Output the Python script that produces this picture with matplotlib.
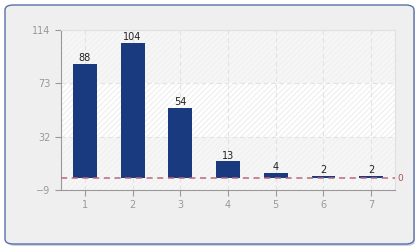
import matplotlib
matplotlib.use("Agg")
import matplotlib.pyplot as plt
from matplotlib.patches import FancyBboxPatch, Rectangle

categories = [1, 2, 3, 4, 5, 6, 7]
values = [88, 104, 54, 13, 4, 2, 2]
yticks = [-9, 32, 73, 114]
baseline = 0

W, H = 420, 250
fig = plt.figure(figsize=(W / 100, H / 100), dpi=100)
fig.patch.set_facecolor("white")

# outer rounded panel
shadow = FancyBboxPatch((7 / W, 4 / H), 408 / W, 239 / H,
                        boxstyle="round,pad=0,rounding_size=0.02",
                        transform=fig.transFigure, facecolor="#c9d0e0",
                        edgecolor="none", zorder=0)
fig.patches.append(shadow)
panel = FancyBboxPatch((5 / W, 6 / H), 409 / W, 239 / H,
                       boxstyle="round,pad=0,rounding_size=0.02",
                       transform=fig.transFigure, facecolor="#efefef",
                       edgecolor="#5a70a8", linewidth=1.0, zorder=0)
fig.patches.append(panel)

ax = fig.add_axes([61 / W, 60 / H, 334 / W, 160 / H])
ax.set_zorder(1)
ax.set_facecolor("white")
ax.set_xlim(0.5, 7.5)
ax.set_ylim(yticks[0], yticks[-1])

# alternating bands with light hatch
for i in range(len(yticks) - 1):
    fc = "#f6f6f6" if i % 2 == 0 else "#ffffff"
    ax.add_patch(Rectangle((0.5, yticks[i]), 7, yticks[i + 1] - yticks[i],
                           facecolor=fc, edgecolor="#f1f1f1", hatch="//////",
                           linewidth=0, zorder=0))

ax.grid(True, color="#e2e2e2", linestyle=(0, (4, 3)), linewidth=0.8, zorder=0.5)
ax.set_axisbelow(True)

bars = ax.bar(categories, values, width=0.5, color="#1a3a80", zorder=2)
for x, v in zip(categories, values):
    ax.text(x, v + 0.5, str(v), ha="center", va="bottom", fontsize=7,
            color="#222222", zorder=3)

ax.axhline(baseline, color="#b86a7a", linestyle=(0, (4, 3)), linewidth=1.1, zorder=3)
ax.text(7.55, baseline, "0", ha="left", va="center", fontsize=6.5,
        color="#b04a5a", clip_on=False)

ax.set_xticks(categories)
ax.set_yticks(yticks)
ax.tick_params(axis="both", colors="#999999", labelcolor="#999999",
               labelsize=7, length=4, width=0.8, direction="out")
for s in ["top", "right"]:
    ax.spines[s].set_color("#e0e0e0")
    ax.spines[s].set_linewidth(0.8)
for s in ["left", "bottom"]:
    ax.spines[s].set_color("#999999")
    ax.spines[s].set_linewidth(0.8)

fig.savefig("out.png", dpi=100, facecolor="white")
